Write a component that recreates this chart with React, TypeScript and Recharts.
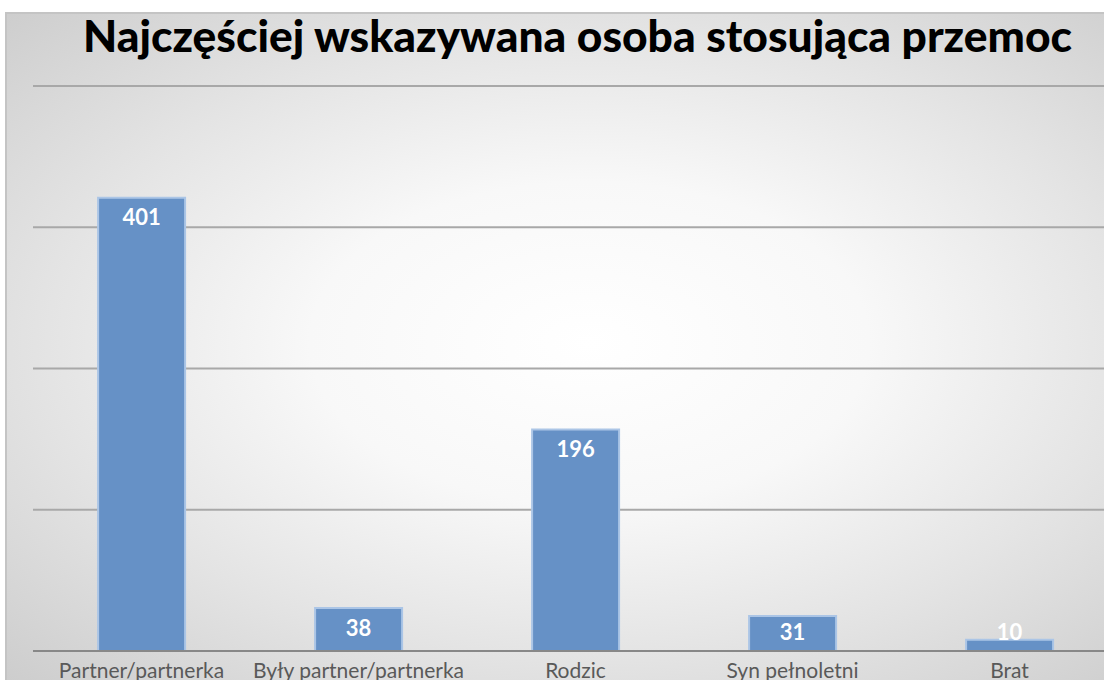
import { BarChart, Bar, XAxis, YAxis, CartesianGrid, LabelList } from 'recharts'

const categories = ['Partner/partnerka', 'Były partner/partnerka', 'Rodzic', 'Syn pełnoletni', 'Brat']
const counts = [401, 38, 196, 31, 10]
const yTicks = [0, 125, 250, 375, 500]
const title = 'Najczęściej wskazywana osoba stosująca przemoc'

const data = categories.map((name, i) => ({ name, value: counts[i] }))

const font = 'Lato, "Open Sans", sans-serif'

// white bold value inside the top of the bar; short bars push it up above the base
function ValueLabel(props: any) {
  const { x, y, width, height, value } = props
  const cy = Math.min(y + 19, y + height - 20)
  return (
    <text
      x={x + width / 2}
      y={cy}
      textAnchor="middle"
      dominantBaseline="central"
      fill="#ffffff"
      fontFamily={font}
      fontWeight={700}
      fontSize={22}
    >
      {value}
    </text>
  )
}

export default function App() {
  return (
    <div style={{ position: 'absolute', left: 0, top: 0, width: 1104, height: 680, overflow: 'hidden' }}>
      <div
        style={{
          position: 'absolute',
          left: 5,
          top: 12,
          width: 1120,
          height: 700,
          borderTop: '2px solid #c4c4c4',
          borderLeft: '2px solid #c4c4c4',
          background: 'radial-gradient(ellipse 78% 72% at 52% 47%, #ffffff 0%, #f8f8f8 32%, #e4e4e4 62%, #c9c9c9 100%)',
        }}
      />
      <svg style={{ position: 'absolute', left: 0, top: 0 }} width={1104} height={70}>
        <text
          x={83}
          y={52}
          textLength={989}
          lengthAdjust="spacingAndGlyphs"
          fontFamily={font}
          fontWeight={900}
          fontSize={43}
          fill="#000000"
        >
          {title}
        </text>
      </svg>
      <div style={{ position: 'absolute', left: 0, top: 0 }}>
        <BarChart width={1120} height={700} data={data} margin={{ top: 86, right: 2, left: 33, bottom: 0 }} barCategoryGap="30%">
          <CartesianGrid horizontal vertical={false} stroke="#a8a8a8" strokeWidth={2} />
          <YAxis hide domain={[0, 500]} ticks={yTicks} />
          <XAxis
            dataKey="name"
            height={49}
            axisLine={{ stroke: '#888888', strokeWidth: 2 }}
            tickLine={false}
            tickMargin={6}
            interval={0}
            tick={{ fontSize: 21, fill: '#595959', fontFamily: font }}
          />
          <Bar dataKey="value" fill="#6691c6" stroke="#abc5e6" strokeWidth={2} isAnimationActive={false}>
            <LabelList dataKey="value" content={ValueLabel} />
          </Bar>
        </BarChart>
      </div>
    </div>
  )
}
